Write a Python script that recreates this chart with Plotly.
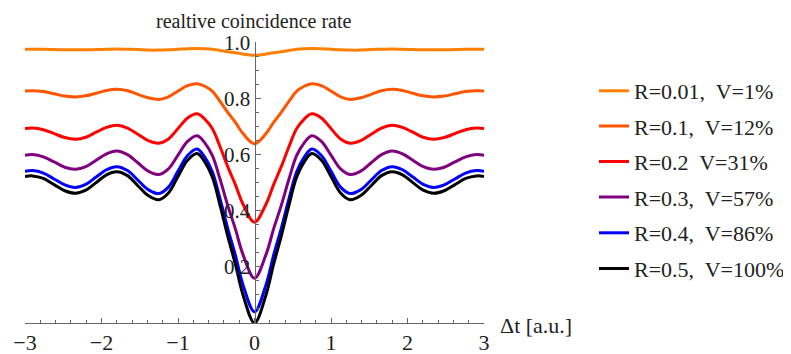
import plotly.graph_objects as go

t = [-3.0, -2.9, -2.76, -2.62, -2.48, -2.34, -2.205, -2.07, -1.935, -1.8, -1.66, -1.525, -1.39, -1.25, -1.125, -1.0,
     -0.875, -0.75, -0.65, -0.55, -0.45, -0.35, -0.25, -0.15, 0.0, 0.15, 0.25, 0.35, 0.45, 0.55, 0.65, 0.75, 0.875,
     1.0, 1.125, 1.25, 1.39, 1.525, 1.66, 1.8, 1.935, 2.07, 2.205, 2.34, 2.48, 2.62, 2.76, 2.9, 3.0]

r001 = [0.977, 0.977, 0.977, 0.976, 0.975, 0.975, 0.975, 0.976, 0.977, 0.978, 0.977, 0.976, 0.974, 0.974, 0.975, 0.977,
        0.979, 0.980, 0.979, 0.977, 0.973, 0.968, 0.965, 0.960, 0.956, 0.960, 0.965, 0.968, 0.973, 0.977, 0.979, 0.980,
        0.979, 0.977, 0.975, 0.974, 0.974, 0.976, 0.977, 0.978, 0.977, 0.976, 0.975, 0.975, 0.975, 0.976, 0.977, 0.977, 0.977]
r01 = [0.828, 0.829, 0.826, 0.818, 0.810, 0.807, 0.811, 0.820, 0.830, 0.834, 0.829, 0.816, 0.804, 0.798, 0.807, 0.828,
       0.847, 0.854, 0.845, 0.827, 0.791, 0.752, 0.716, 0.676, 0.640, 0.676, 0.716, 0.752, 0.791, 0.827, 0.845, 0.854,
       0.847, 0.828, 0.807, 0.798, 0.804, 0.816, 0.829, 0.834, 0.830, 0.820, 0.811, 0.807, 0.810, 0.818, 0.826, 0.829, 0.828]
r02 = [0.694, 0.696, 0.690, 0.676, 0.662, 0.656, 0.663, 0.681, 0.698, 0.706, 0.696, 0.674, 0.651, 0.642, 0.657, 0.694,
       0.732, 0.747, 0.728, 0.693, 0.629, 0.558, 0.494, 0.424, 0.360, 0.424, 0.494, 0.558, 0.629, 0.693, 0.728, 0.747,
       0.732, 0.694, 0.657, 0.642, 0.651, 0.674, 0.696, 0.706, 0.698, 0.681, 0.663, 0.656, 0.662, 0.676, 0.690, 0.696, 0.694]
r03 = [0.599, 0.601, 0.593, 0.575, 0.556, 0.549, 0.558, 0.581, 0.604, 0.614, 0.601, 0.572, 0.542, 0.530, 0.550, 0.599,
       0.648, 0.668, 0.643, 0.597, 0.513, 0.420, 0.336, 0.244, 0.160, 0.244, 0.336, 0.420, 0.513, 0.597, 0.643, 0.668,
       0.648, 0.599, 0.550, 0.530, 0.542, 0.572, 0.601, 0.614, 0.604, 0.581, 0.558, 0.549, 0.556, 0.575, 0.593, 0.601, 0.599]
r04 = [0.542, 0.544, 0.535, 0.514, 0.493, 0.484, 0.495, 0.521, 0.547, 0.558, 0.544, 0.510, 0.476, 0.462, 0.485, 0.542,
       0.598, 0.621, 0.592, 0.539, 0.443, 0.338, 0.242, 0.136, 0.040, 0.136, 0.242, 0.338, 0.443, 0.539, 0.592, 0.621,
       0.598, 0.542, 0.485, 0.462, 0.476, 0.510, 0.544, 0.558, 0.547, 0.521, 0.495, 0.484, 0.493, 0.514, 0.535, 0.544, 0.542]
r05 = [0.523, 0.525, 0.516, 0.494, 0.472, 0.463, 0.474, 0.501, 0.529, 0.540, 0.526, 0.490, 0.455, 0.440, 0.464, 0.523,
       0.581, 0.605, 0.575, 0.520, 0.420, 0.310, 0.210, 0.100, 0.000, 0.100, 0.210, 0.310, 0.420, 0.520, 0.575, 0.605,
       0.581, 0.523, 0.464, 0.440, 0.455, 0.490, 0.526, 0.540, 0.529, 0.501, 0.474, 0.463, 0.472, 0.494, 0.516, 0.525, 0.523]

series = [r001, r01, r02, r03, r04, r05]
names = ["R=0.01,  V=1%", "R=0.1,  V=12%", "R=0.2  V=31%", "R=0.3,  V=57%", "R=0.4,  V=86%", "R=0.5,  V=100%"]
colors = ["#FF8000", "#FF5500", "#FF0000", "#800080", "#0000FF", "#000000"]

x_ticks = [-3, -2, -1, 0, 1, 2, 3]
x_minor = [round(-3 + 0.2 * i, 2) for i in range(31)]
y_ticks = [0.2, 0.4, 0.6, 0.8, 1.0]
y_tick_text = ["0.2", "0.4", "0.6", "0.8", "1.0"]
y_minor = [round(0.05 * i, 2) for i in range(1, 21)]

FONT = "Liberation Serif, Times New Roman, serif"

# page has an 8px body margin: figure is placed at (8, 8)
OFF = 8
W, H = 791 - OFF, 354 - OFF
PL, PR = 25 - OFF, 484 - OFF      # plot area left/right (figure px)
PT, PB = 42 - OFF, 323 - OFF      # plot area top/bottom (figure px)


def py(v):
    return (PB - (v - OFF)) / (PB - PT)


legend_rows = [91, 126.3, 161.7, 197.3, 233, 268.7]

fig = go.Figure()
for i, (ys, nm, c) in enumerate(zip(series, names, colors)):
    fig.add_trace(go.Scatter(
        x=t, y=ys, mode="lines", name=nm,
        legend="legend" if i == 0 else f"legend{i + 1}",
        line=dict(color=c, width=3, shape="spline", smoothing=1.0),
        cliponaxis=False,
    ))

layout_legends = {}
for i, row in enumerate(legend_rows):
    key = "legend" if i == 0 else f"legend{i + 1}"
    layout_legends[key] = dict(x=(594 - OFF) / W, y=py(row), xanchor="left", yanchor="middle",
                               font=dict(family=FONT, size=22, color="#222"),
                               bgcolor="rgba(0,0,0,0)", borderwidth=0)

fig.update_layout(
    width=W, height=H,
    margin=dict(l=0, r=0, t=PT, b=H - PB, autoexpand=False, pad=0),
    paper_bgcolor="white", plot_bgcolor="white",
    font=dict(family=FONT, size=21, color="black"),
    showlegend=True,
    xaxis=dict(range=[-3, 3], domain=[PL / W, PR / W], showgrid=False, zeroline=False,
               showline=True, linecolor="#666", linewidth=1,
               tickmode="array", tickvals=x_ticks, ticks="inside", ticklen=5, tickcolor="#666",
               minor=dict(tickmode="array", tickvals=x_minor, ticks="inside", ticklen=3, tickcolor="#666"),
               tickfont=dict(family=FONT, size=22, color="#222")),
    yaxis=dict(range=[0, 1.003], anchor="free", position=(PL + PR) / 2 / W, showgrid=False, zeroline=False,
               showline=True, linecolor="#666", linewidth=1,
               tickmode="array", tickvals=y_ticks, ticktext=y_tick_text, ticks="inside", ticklen=5, tickcolor="#666",
               minor=dict(tickmode="array", tickvals=y_minor, ticks="inside", ticklen=3, tickcolor="#666"),
               tickfont=dict(family=FONT, size=21, color="#222")),
    annotations=[
        dict(text="realtive coincidence rate", xref="paper", yref="paper", x=(254 - OFF) / W, y=py(21),
             xanchor="center", yanchor="middle", showarrow=False, font=dict(family=FONT, size=20, color="#222")),
        dict(text="Δt [a.u.]", xref="paper", yref="paper", x=(498 - OFF) / W, y=py(325),
             xanchor="left", yanchor="middle", showarrow=False, font=dict(family=FONT, size=22, color="#222")),
    ],
    **layout_legends,
)

fig.write_html("out.html")
